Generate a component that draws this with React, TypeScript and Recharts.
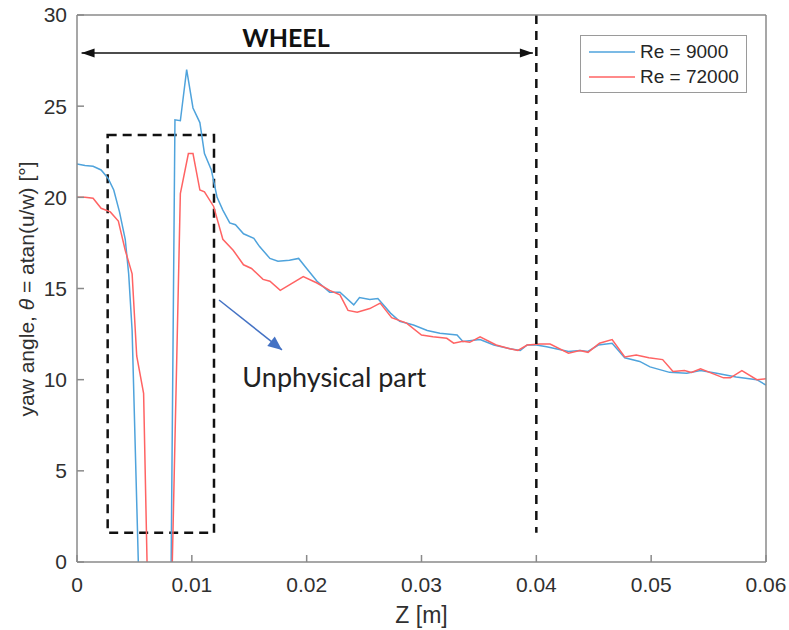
import React from 'react';
import {
  LineChart, Line, XAxis, YAxis, Legend,
  ReferenceLine, ReferenceArea, ReferenceDot
} from 'recharts';

const xTicks = [0, 0.01, 0.02, 0.03, 0.04, 0.05, 0.06];
const yTicks = [0, 5, 10, 15, 20, 25, 30];

const seriesNames = ['Re = 9000', 'Re = 72000'];
const seriesColors = ['#4fa3dc', '#ff6363'];

// Re = 9000
const zLow = [
  0, 0.0007, 0.0014, 0.0021, 0.0027, 0.0032, 0.0037, 0.0042, 0.0045, 0.0048,
  0.00534, 0.0056, 0.0081, 0.0082, 0.00853, 0.009, 0.00955, 0.0101, 0.0107, 0.0111,
  0.0117, 0.0122, 0.0127, 0.0133, 0.0138, 0.0145, 0.0154, 0.0159, 0.0168, 0.0175,
  0.0185, 0.0193, 0.02, 0.0209, 0.022, 0.0229, 0.0241, 0.0246, 0.0255, 0.0262,
  0.0273, 0.0281, 0.0293, 0.0305, 0.0316, 0.0331, 0.0336, 0.0351, 0.0363, 0.0377,
  0.0386, 0.0392, 0.04, 0.0409, 0.0428, 0.0438, 0.0445, 0.0454, 0.0466, 0.0477,
  0.049, 0.0499, 0.0516, 0.0531, 0.0543, 0.0557, 0.0574, 0.0592, 0.06
];
const yawLow = [
  21.83, 21.75, 21.7, 21.5, 21.05, 20.4, 19.2, 17.7, 15.8, 12.7,
  0, -6, -6, 0, 24.25, 24.2, 27.0, 24.9, 24.1, 22.4,
  21.5, 20.0, 19.3, 18.6, 18.5, 18.0, 17.75, 17.3, 16.65, 16.5,
  16.55, 16.65, 16.1, 15.4, 14.8, 14.8, 14.1, 14.5, 14.4, 14.45,
  13.65, 13.2, 13.0, 12.7, 12.55, 12.45, 12.1, 12.2, 11.9, 11.7,
  11.6, 11.9, 11.9, 11.8, 11.55, 11.6, 11.55, 11.9, 12.0, 11.2,
  11.0, 10.7, 10.4, 10.35, 10.5, 10.35, 10.15, 10.0, 9.7
];

// Re = 72000
const zHigh = [
  0, 0.0007, 0.0014, 0.0021, 0.0029, 0.0036, 0.0042, 0.0048, 0.0052, 0.0058,
  0.0061, 0.0063, 0.0082, 0.0083, 0.009, 0.0097, 0.0101, 0.0107, 0.0111, 0.0119,
  0.0123, 0.0127, 0.0136, 0.0145, 0.0152, 0.0162, 0.0168, 0.0177, 0.0185, 0.0197,
  0.0209, 0.022, 0.0229, 0.0236, 0.0244, 0.0255, 0.0264, 0.0274, 0.0287, 0.03,
  0.031, 0.0322, 0.0328, 0.0336, 0.0342, 0.0351, 0.0365, 0.0377, 0.0384, 0.0392,
  0.0403, 0.0412, 0.0428, 0.0438, 0.0445, 0.0455, 0.0466, 0.0477, 0.0487, 0.0498,
  0.051, 0.0519, 0.0529, 0.0535, 0.0543, 0.0563, 0.0569, 0.0579, 0.0592, 0.06
];
const yawHigh = [
  20.0, 20.0, 19.95, 19.4, 19.2, 18.7, 17.1, 15.8, 11.3, 9.25,
  0, -6, -6, 0, 20.2, 22.4, 22.4, 20.4, 20.3, 19.5,
  18.6, 17.7, 17.1, 16.3, 16.1, 15.5, 15.4, 14.9, 15.2, 15.65,
  15.3, 14.9, 14.65, 13.8, 13.7, 13.9, 14.2, 13.4, 13.1, 12.45,
  12.35, 12.27, 12.0, 12.1, 12.05, 12.35, 11.9, 11.7, 11.6, 11.9,
  11.95, 11.95, 11.45, 11.6, 11.5, 12.0, 12.2, 11.25, 11.35, 11.2,
  11.1, 10.45, 10.5, 10.4, 10.6, 10.1, 10.1, 10.5, 10.0, 10.05
];

const lowData = zLow.map((z, i) => ({ z, yaw: yawLow[i] }));
const highData = zHigh.map((z, i) => ({ z, yaw: yawHigh[i] }));

const axisGray = '#8a8a8a';
const textGray = '#303030';
const sans = 'Arial, "Liberation Sans", sans-serif';
const calibriLike = 'Lato, "Open Sans", sans-serif';

const head = (x: number, y: number, ang: number, len: number, half: number, fill: string) => {
  const c = Math.cos(ang), s = Math.sin(ang);
  const bx = x - len * c, by = y - len * s;
  return (
    <polygon
      points={`${x},${y} ${bx - half * s},${by + half * c} ${bx + half * s},${by - half * c}`}
      fill={fill}
    />
  );
};

const wheelArrow = (p: any) => {
  const a = Math.atan2(p.y2 - p.y1, p.x2 - p.x1);
  return (
    <g>
      <line x1={p.x1} y1={p.y1} x2={p.x2} y2={p.y2} stroke="#111" strokeWidth={1.5} />
      {head(p.x2, p.y2, a, 13, 4.5, '#111')}
      {head(p.x1, p.y1, a + Math.PI, 13, 4.5, '#111')}
    </g>
  );
};

const pointerArrow = (p: any) => {
  const a = Math.atan2(p.y2 - p.y1, p.x2 - p.x1);
  return (
    <g>
      <line x1={p.x1} y1={p.y1} x2={p.x2} y2={p.y2} stroke="#4472c4" strokeWidth={1.5} />
      {head(p.x2, p.y2, a, 14, 6, '#4472c4')}
    </g>
  );
};

// plot box: left 77, right 766, top 15, bottom 562
const YLabel = () => {
  const cx = 26;
  const cy = 289;
  return (
    <text
      x={cx} y={cy} transform={`rotate(-90, ${cx}, ${cy})`}
      textAnchor="middle" dominantBaseline="central"
      fontSize={21} fill={textGray} fontFamily={sans}
    >
      yaw angle, <tspan fontStyle="italic">θ</tspan> = atan(u/w) [°]
    </text>
  );
};

const XLabel = () => (
  <text
    x={421.5} y={623} textAnchor="middle"
    fontSize={23} fill={textGray} fontFamily={sans}
  >
    Z [m]
  </text>
);

const LegendBox = () => (
  <div style={{
    border: '1px solid #9a9a9a', background: '#fff', padding: '3px 0',
    fontFamily: sans, fontSize: 19, color: '#262626', boxSizing: 'border-box',
    width: 167, height: 58
  }}>
    {seriesNames.map((name, i) => (
      <div key={name} style={{ display: 'flex', alignItems: 'center', height: 25 }}>
        <svg width={54} height={10} style={{ marginRight: 5 }}>
          <line x1={8} y1={5} x2={54} y2={5} stroke={seriesColors[i]} strokeWidth={1.5} />
        </svg>
        <span>{name}</span>
      </div>
    ))}
  </div>
);

export default function App() {
  return (
    <div style={{ position: 'absolute', left: 0, top: 0, width: 789, height: 630, background: '#fff' }}>
      <LineChart width={789} height={630} margin={{ top: 14, right: 22, bottom: 8, left: 0 }}>
        <XAxis
          dataKey="z" type="number" domain={[0, 0.06]} ticks={xTicks} allowDataOverflow
          height={60} tickSize={-7} tickMargin={22} stroke={axisGray} strokeWidth={1.5}
          tick={{ fill: textGray, fontSize: 21, fontFamily: sans }}
          label={XLabel}
        />
        <XAxis
          xAxisId="top" orientation="top" dataKey="z" type="number" domain={[0, 0.06]}
          ticks={xTicks} allowDataOverflow height={1} tickSize={-7} tick={false}
          stroke={axisGray} strokeWidth={1.5}
        />
        <YAxis
          type="number" domain={[0, 30]} ticks={yTicks} allowDataOverflow width={77}
          tickSize={-7} tickMargin={17} stroke={axisGray} strokeWidth={1.5}
          tick={{ fill: textGray, fontSize: 21, fontFamily: sans }}
          label={YLabel}
        />
        <YAxis
          yAxisId="right" orientation="right" type="number" domain={[0, 30]} ticks={yTicks}
          allowDataOverflow width={1} tickSize={-7} tick={false}
          stroke={axisGray} strokeWidth={1.5}
        />

        <Line
          data={lowData} dataKey="yaw" name={seriesNames[0]} type="linear"
          stroke={seriesColors[0]} strokeWidth={1.5} dot={false} isAnimationActive={false}
        />
        <Line
          data={highData} dataKey="yaw" name={seriesNames[1]} type="linear"
          stroke={seriesColors[1]} strokeWidth={1.5} dot={false} isAnimationActive={false}
        />

        <ReferenceArea
          x1={0.00267} x2={0.01193} y1={1.6} y2={23.42}
          fill="none" fillOpacity={0} stroke="#111" strokeWidth={2.5} strokeDasharray="9 6"
        />
        <ReferenceLine
          segment={[{ x: 0.04, y: 30 }, { x: 0.04, y: 1.6 }]}
          stroke="#111" strokeWidth={2.5} strokeDasharray="9 7"
        />
        <ReferenceLine
          segment={[{ x: 0.0004, y: 27.92 }, { x: 0.0397, y: 27.92 }]}
          shape={wheelArrow}
        />
        <ReferenceLine
          segment={[{ x: 0.01237, y: 14.37 }, { x: 0.01785, y: 11.63 }]}
          shape={pointerArrow}
        />
        <ReferenceDot
          x={0.0144} y={28.25} r={0}
          shape={(p: any) => (
            <text x={p.cx} y={p.cy} fontFamily={calibriLike} fontWeight="bold" fontSize={25} fill="#111">
              WHEEL
            </text>
          )}
        />
        <ReferenceDot
          x={0.0144} y={9.6} r={0}
          shape={(p: any) => (
            <text x={p.cx} y={p.cy} fontFamily={calibriLike} fontSize={27} fill="#222">
              Unphysical part
            </text>
          )}
        />

        <Legend
          layout="vertical" align="center" verticalAlign="middle"
          wrapperStyle={{ left: 580, top: 35, width: 167, height: 58 }}
          content={LegendBox}
        />
      </LineChart>
    </div>
  );
}
